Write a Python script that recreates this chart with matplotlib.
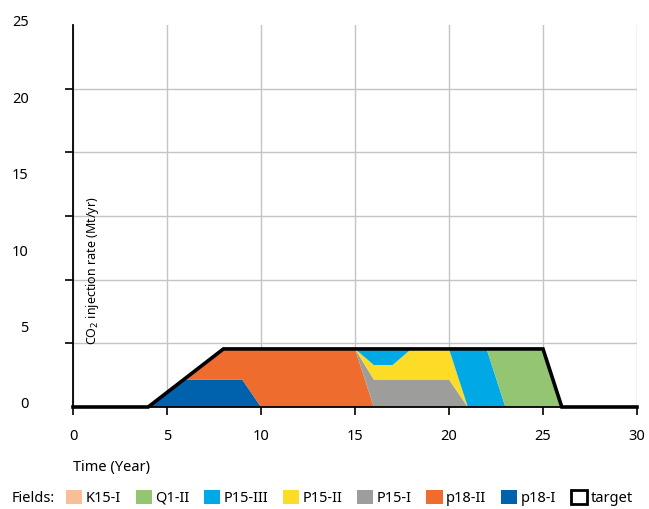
import matplotlib.pyplot as plt
import numpy as np
from matplotlib.patches import Patch
from matplotlib.transforms import ScaledTranslation

plt.rcParams["font.family"] = ["Noto Sans", "DejaVu Sans"]

years = np.arange(0, 31)

# injection rate per field (Mt/yr), one value per year 0..30
p18_I = [0, 0, 0, 0, 0, 0.9, 1.8, 1.8, 1.8, 1.8, 0, 0, 0, 0, 0, 0,
         0, 0, 0, 0, 0, 0, 0, 0, 0, 0, 0, 0, 0, 0, 0]
p18_II = [0, 0, 0, 0, 0, 0.05, 0.1, 1.05, 2.0, 2.0, 3.8, 3.8, 3.8, 3.8, 3.8, 3.8,
          0, 0, 0, 0, 0, 0, 0, 0, 0, 0, 0, 0, 0, 0, 0]
P15_I = [0, 0, 0, 0, 0, 0, 0, 0, 0, 0, 0, 0, 0, 0, 0, 0,
         1.8, 1.8, 1.8, 1.8, 1.8, 0, 0, 0, 0, 0, 0, 0, 0, 0, 0]
P15_II = [0, 0, 0, 0, 0, 0, 0, 0, 0, 0, 0, 0, 0, 0, 0, 0,
          0.95, 0.95, 2.0, 2.0, 2.0, 0, 0, 0, 0, 0, 0, 0, 0, 0, 0]
P15_III = [0, 0, 0, 0, 0, 0, 0, 0, 0, 0, 0, 0, 0, 0, 0, 0,
           1.05, 1.05, 0, 0, 0, 3.8, 3.8, 0, 0, 0, 0, 0, 0, 0, 0]
Q1_II = [0, 0, 0, 0, 0, 0, 0, 0, 0, 0, 0, 0, 0, 0, 0, 0,
         0, 0, 0, 0, 0, 0, 0, 3.8, 3.8, 3.8, 0, 0, 0, 0, 0]
K15_I = [0] * 31
target = [0, 0, 0, 0, 0, 0.95, 1.9, 2.85, 3.8, 3.8, 3.8, 3.8, 3.8, 3.8, 3.8, 3.8,
          3.8, 3.8, 3.8, 3.8, 3.8, 3.8, 3.8, 3.8, 3.8, 3.8, 0, 0, 0, 0, 0]

fields = ["p18-I", "p18-II", "P15-I", "P15-II", "P15-III", "Q1-II", "K15-I"]
colors = ["#0061ad", "#ed6c2e", "#9d9d9c", "#fddc27", "#00a9e5", "#93c572", "#f8be98"]

fig = plt.figure(figsize=(6.49, 5.09), dpi=100)
ax = fig.add_axes([73 / 649, 102 / 509, 564 / 649, 382 / 509])

ax.stackplot(years, p18_I, p18_II, P15_I, P15_II, P15_III, Q1_II, K15_I,
             colors=colors, linewidth=0, zorder=2)
ax.plot(years, target, color="black", lw=2.6, zorder=3, clip_on=False,
        solid_joinstyle="miter")

ax.set_xlim(0, 30)
ax.set_ylim(0, 25)

ax.set_xticks(np.arange(0, 31, 5))
ax.tick_params(axis="x", direction="out", length=6, width=1.2, pad=10,
               labelsize=10.5, colors="black")
ax.grid(axis="x", color="#c4c4c4", lw=1, zorder=0)

# y labels on 0..25, tick marks and gridlines on sixths
ax.set_yticks(np.arange(0, 26, 5))
ax.set_yticks(np.linspace(0, 25, 7), minor=True)
ax.tick_params(axis="y", which="major", length=0, pad=32, labelsize=10.5)
ax.tick_params(axis="y", which="minor", direction="out", length=6, width=1.2)
ax.grid(axis="y", which="minor", color="#c4c4c4", lw=1, zorder=0)
for lbl in ax.get_yticklabels():
    lbl.set_transform(lbl.get_transform() + ScaledTranslation(0, 4 / 100, fig.dpi_scale_trans))

for side in ["top", "right"]:
    ax.spines[side].set_visible(False)
ax.spines["left"].set_linewidth(1.3)
ax.spines["bottom"].set_linewidth(1.3)

fig.text(93 / 649, (509 - 345) / 509, "CO$_2$ injection rate (Mt/yr)",
         rotation=90, ha="center", va="bottom", fontsize=9)

fig.text(73 / 649, 1 - 467 / 509, "Time (Year)", ha="left", va="center", fontsize=10.5)

fig.text(12 / 649, 1 - 498 / 509, "Fields:", ha="left", va="center", fontsize=10.5)
handles = [Patch(facecolor=c, edgecolor="none", label=f)
           for f, c in zip(fields[::-1], colors[::-1])]
handles.append(Patch(facecolor="white", edgecolor="black", linewidth=2, label="target"))
fig.legend(handles=handles, loc="center left", bbox_to_anchor=(66 / 649, 1 - 498 / 509),
           ncol=8, frameon=False, fontsize=10.5, handlelength=1.1, handleheight=1.1,
           handletextpad=0.25, columnspacing=1.0, borderaxespad=0, borderpad=0)

fig.savefig("out.png", dpi=100)
